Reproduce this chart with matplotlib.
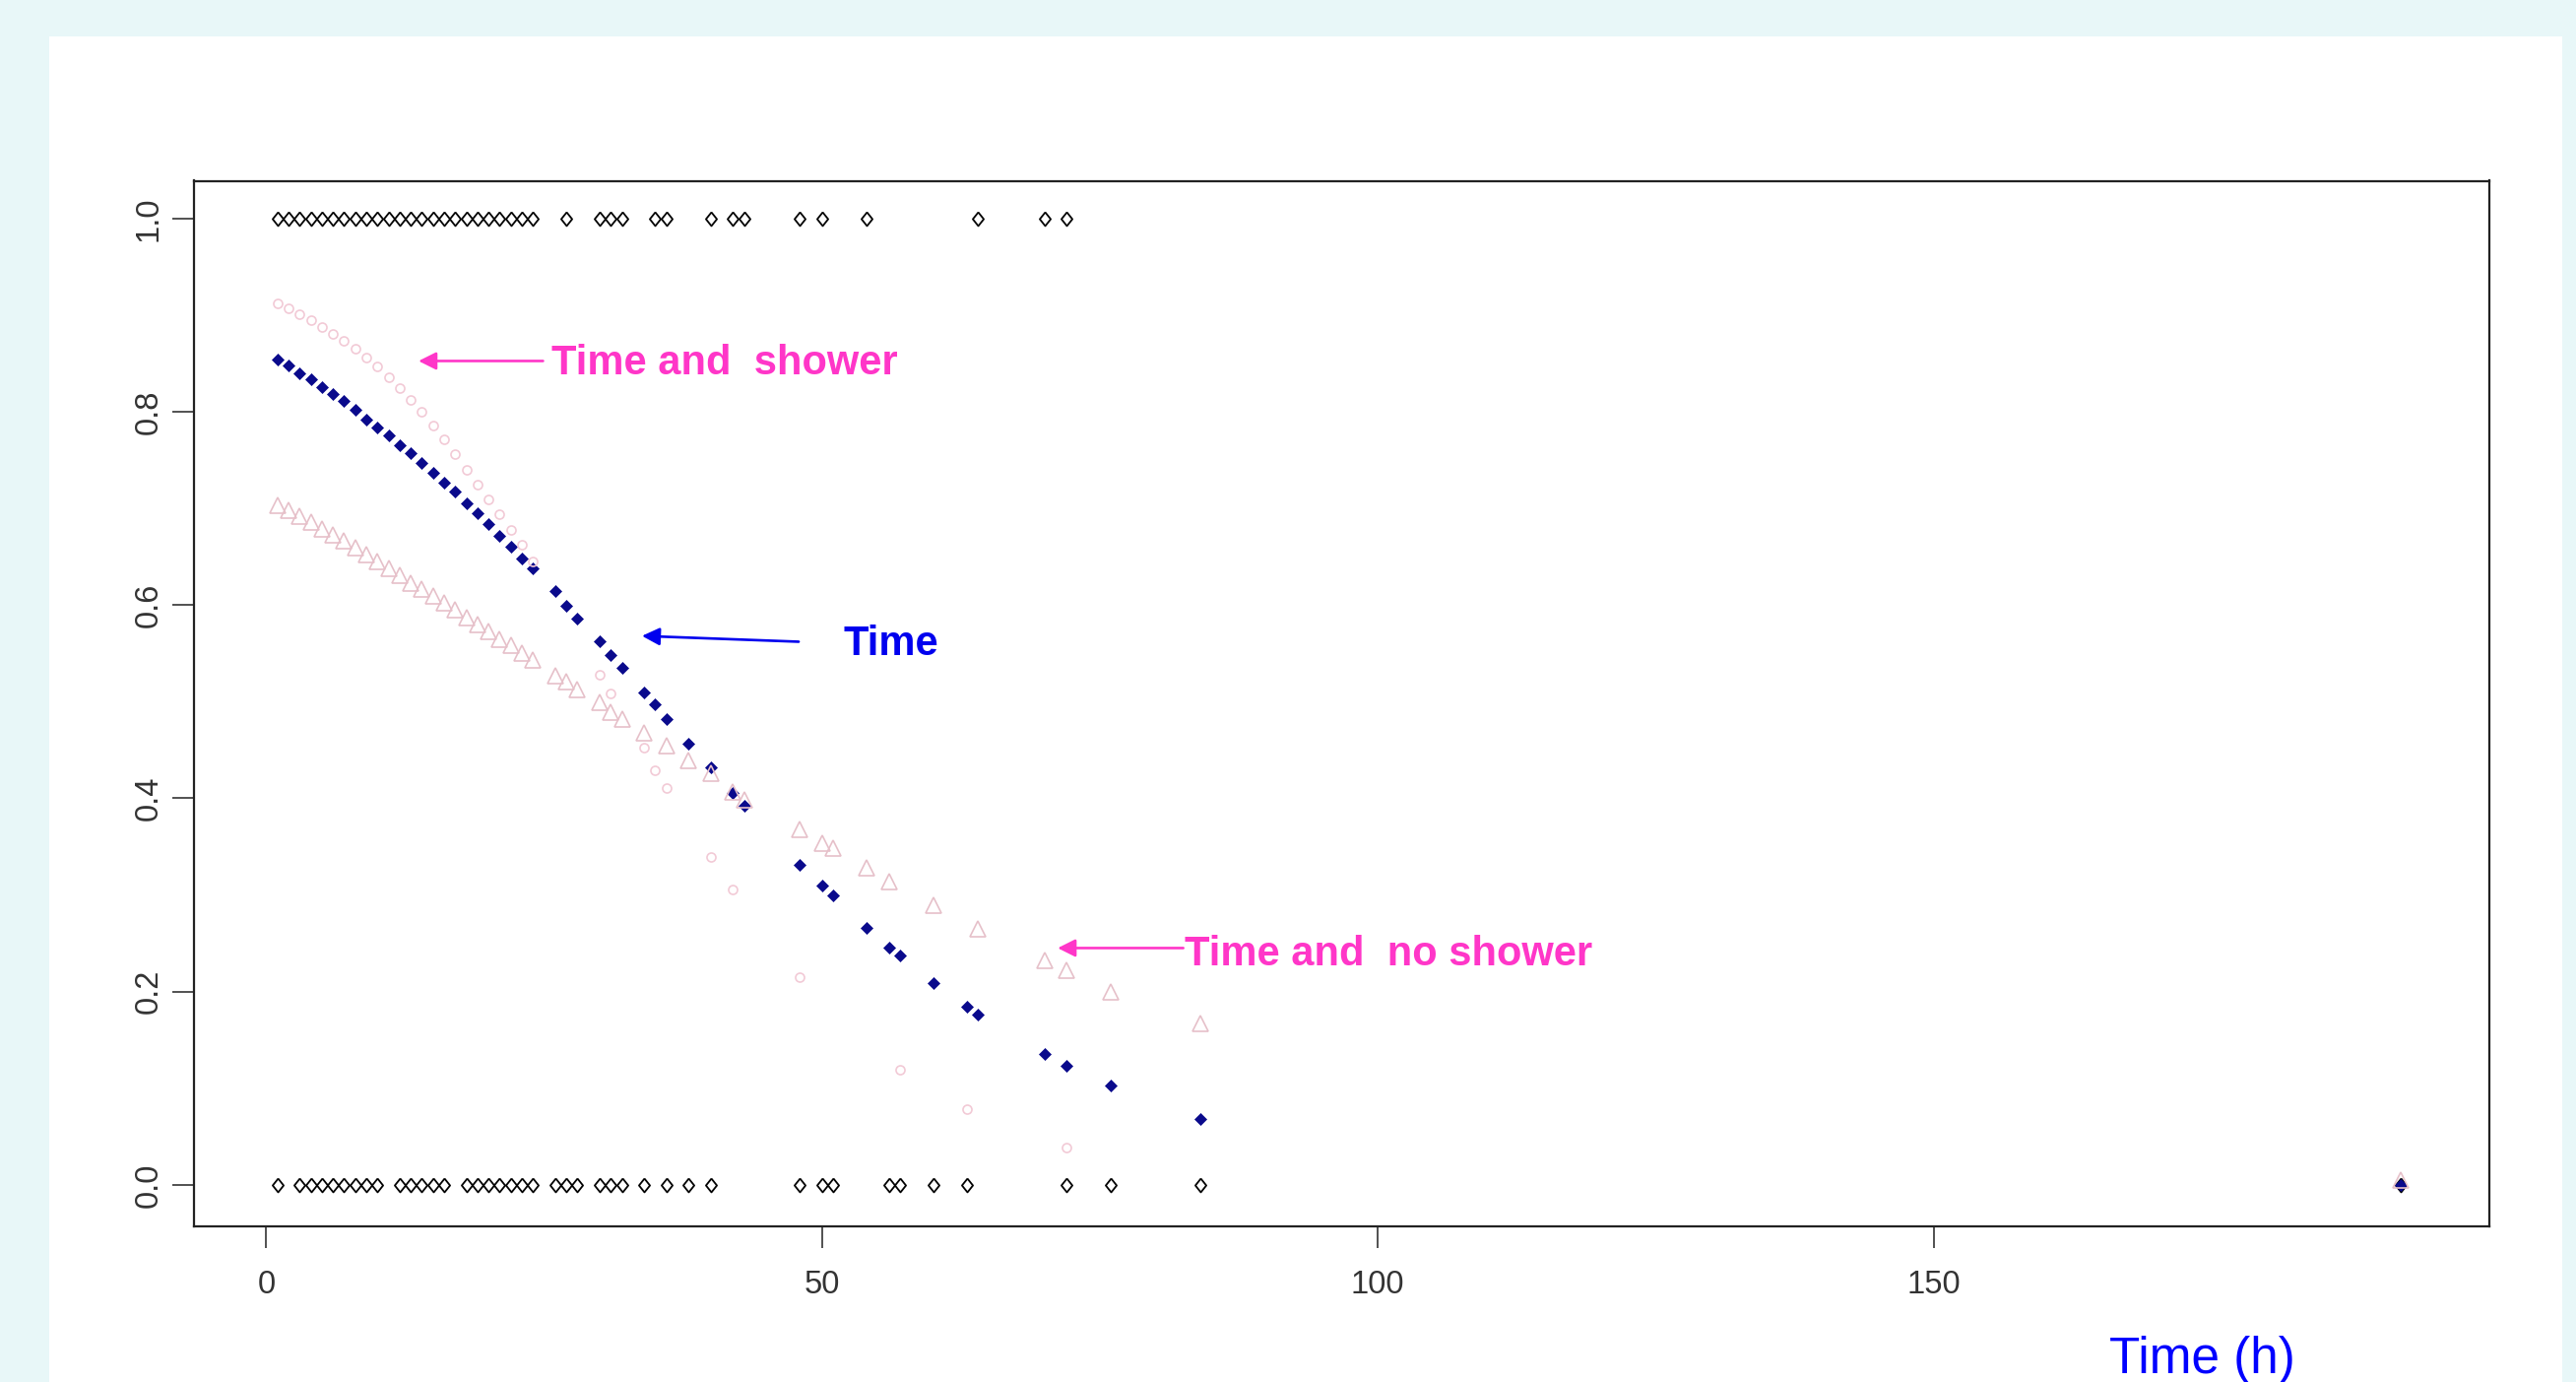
import matplotlib
matplotlib.use("Agg")
import matplotlib.pyplot as plt
from matplotlib.patches import Rectangle

plt.rcParams['font.family'] = ['Liberation Sans', 'DejaVu Sans']

# ---- data ----
# observed status rows (event = 1, censored/no event = 0)
event1_times = list(range(1, 25)) + [27, 30, 31, 32, 35, 36, 40, 42, 43, 48, 50, 54, 64, 70, 72]
event0_times = [1, 3, 4, 5, 6, 7, 8, 9, 10, 12, 13, 14, 15, 16, 18, 19, 20, 21, 22, 23, 24,
                26, 27, 28, 30, 31, 32, 34, 36, 38, 40, 48, 50, 51, 56, 57, 60, 63, 72, 76, 84, 192]

# model "Time"
time_x = list(range(1, 25)) + [26, 27, 28, 30, 31, 32, 34, 35, 36, 38, 40, 42, 43,
                               48, 50, 51, 54, 56, 57, 60, 63, 64, 70, 72, 76, 84, 192]
time_y = [0.854, 0.848, 0.840, 0.834, 0.825, 0.818, 0.811, 0.802, 0.792, 0.784, 0.776, 0.765,
          0.757, 0.747, 0.737, 0.727, 0.717, 0.705, 0.695, 0.684, 0.672, 0.660, 0.648, 0.638,
          0.614, 0.599, 0.586, 0.562, 0.548, 0.535, 0.509, 0.497, 0.482, 0.456, 0.432, 0.406,
          0.392, 0.331, 0.310, 0.299, 0.266, 0.245, 0.237, 0.209, 0.184, 0.176, 0.135, 0.123,
          0.103, 0.068, 0.000]

# model "Time and shower"
shower_x = list(range(1, 25)) + [30, 31, 34, 35, 36, 40, 42, 48, 57, 63, 72]
shower_y = [0.912, 0.907, 0.901, 0.895, 0.888, 0.881, 0.873, 0.865, 0.856, 0.847, 0.836, 0.824,
            0.812, 0.800, 0.786, 0.771, 0.756, 0.740, 0.725, 0.709, 0.694, 0.678, 0.662, 0.645,
            0.528, 0.508, 0.452, 0.429, 0.411, 0.339, 0.306, 0.215, 0.119, 0.078, 0.039]

# model "Time and no shower"
noshower_x = list(range(1, 25)) + [26, 27, 28, 30, 31, 32, 34, 36, 38, 40, 42, 43,
                                   48, 50, 51, 54, 56, 60, 64, 70, 72, 76, 84, 192]
noshower_y = [0.703, 0.698, 0.692, 0.686, 0.679, 0.673, 0.666, 0.659, 0.652, 0.645, 0.638, 0.631,
              0.623, 0.616, 0.609, 0.602, 0.595, 0.587, 0.580, 0.573, 0.565, 0.558, 0.550, 0.543,
              0.527, 0.521, 0.513, 0.499, 0.489, 0.482, 0.468, 0.454, 0.439, 0.426, 0.407, 0.398,
              0.368, 0.354, 0.348, 0.328, 0.314, 0.289, 0.265, 0.232, 0.222, 0.200, 0.167, 0.005]

x_ticks = [0, 50, 100, 150]
y_ticks = [0.0, 0.2, 0.4, 0.6, 0.8, 1.0]
y_tick_labels = ['0.0', '0.2', '0.4', '0.6', '0.8', '1.0']

# ---- figure ----
W, H = 2616, 1403
fig = plt.figure(figsize=(W / 100, H / 100), dpi=100, facecolor='#e8f7f8')
fig.patches.append(Rectangle((50 / W, 0), (2602 - 50) / W, (H - 37) / H,
                             transform=fig.transFigure, facecolor='white',
                             edgecolor='none', zorder=-5))

ax = fig.add_axes([197 / W, 1 - 1245 / H, (2528 - 197) / W, (1245 - 183.5) / H])
ax.set_zorder(2)
ax.set_facecolor('white')
ax.set_xlim(-6.5, 200)
ax.set_ylim(-0.043, 1.039)

open_diamond = [(0, 1), (0.8, 0), (0, -1), (-0.8, 0), (0, 1)]

ax.plot(event1_times, [1.0] * len(event1_times), linestyle='none', marker=open_diamond, ms=10,
        mfc='none', mec='black', mew=1.3, zorder=3)
ax.plot(event0_times, [0.0] * len(event0_times), linestyle='none', marker=open_diamond, ms=10,
        mfc='none', mec='black', mew=1.3, zorder=3)
ax.plot(time_x, time_y, linestyle='none', marker='D', ms=6.3,
        mfc='#0a0a8c', mec='#0a0a8c', mew=0.5, zorder=4)
ax.plot(shower_x, shower_y, linestyle='none', marker='o', ms=6.5,
        mfc='none', mec='#f2cad6', mew=1.2, zorder=5)
ax.plot(noshower_x, noshower_y, linestyle='none', marker='^', ms=11,
        mfc='none', mec='#e6c0c9', mew=1.2, zorder=5)

for s in ax.spines.values():
    s.set_linewidth(1.6)
    s.set_color('#222222')

ax.set_xticks(x_ticks)
ax.set_xticklabels([str(v) for v in x_ticks])
ax.set_yticks(y_ticks)
ax.set_yticklabels(y_tick_labels)
ax.tick_params(axis='both', direction='out', length=15.8, width=1.1, colors='#222222',
               labelsize=23.5, labelcolor='#333333')
ax.tick_params(axis='x', pad=16)
ax.tick_params(axis='y', pad=6)
for lbl in ax.get_yticklabels():
    lbl.set_rotation(90)
    lbl.set_va('center')

magenta = '#ff36c8'
blue = '#0000ee'

ax.annotate('', xy=(13.7, 0.8525), xytext=(24.9, 0.8525),
            arrowprops=dict(arrowstyle='-|>', color=magenta, lw=1.9, mutation_scale=27,
                            shrinkA=0, shrinkB=0), zorder=6)
ax.text(25.7, 0.839, 'Time and  shower', color=magenta, fontsize=30, fontweight='bold',
        ha='left', va='baseline', zorder=6)

ax.annotate('', xy=(33.8, 0.568), xytext=(47.9, 0.562),
            arrowprops=dict(arrowstyle='-|>', color=blue, lw=1.9, mutation_scale=27,
                            shrinkA=0, shrinkB=0), zorder=6)
ax.text(51.9, 0.548, 'Time', color=blue, fontsize=30, fontweight='bold',
        ha='left', va='baseline', zorder=6)

ax.annotate('', xy=(71.2, 0.245), xytext=(82.5, 0.245),
            arrowprops=dict(arrowstyle='-|>', color=magenta, lw=1.9, mutation_scale=27,
                            shrinkA=0, shrinkB=0), zorder=6)
ax.text(82.6, 0.227, 'Time and  no shower', color=magenta, fontsize=30, fontweight='bold',
        ha='left', va='baseline', zorder=6)

fig.text(2142 / W, 9 / H, 'Time (h)', color='#0000ff', fontsize=37,
         ha='left', va='baseline', zorder=3)

fig.savefig('out.png', dpi=100, facecolor=fig.get_facecolor())
